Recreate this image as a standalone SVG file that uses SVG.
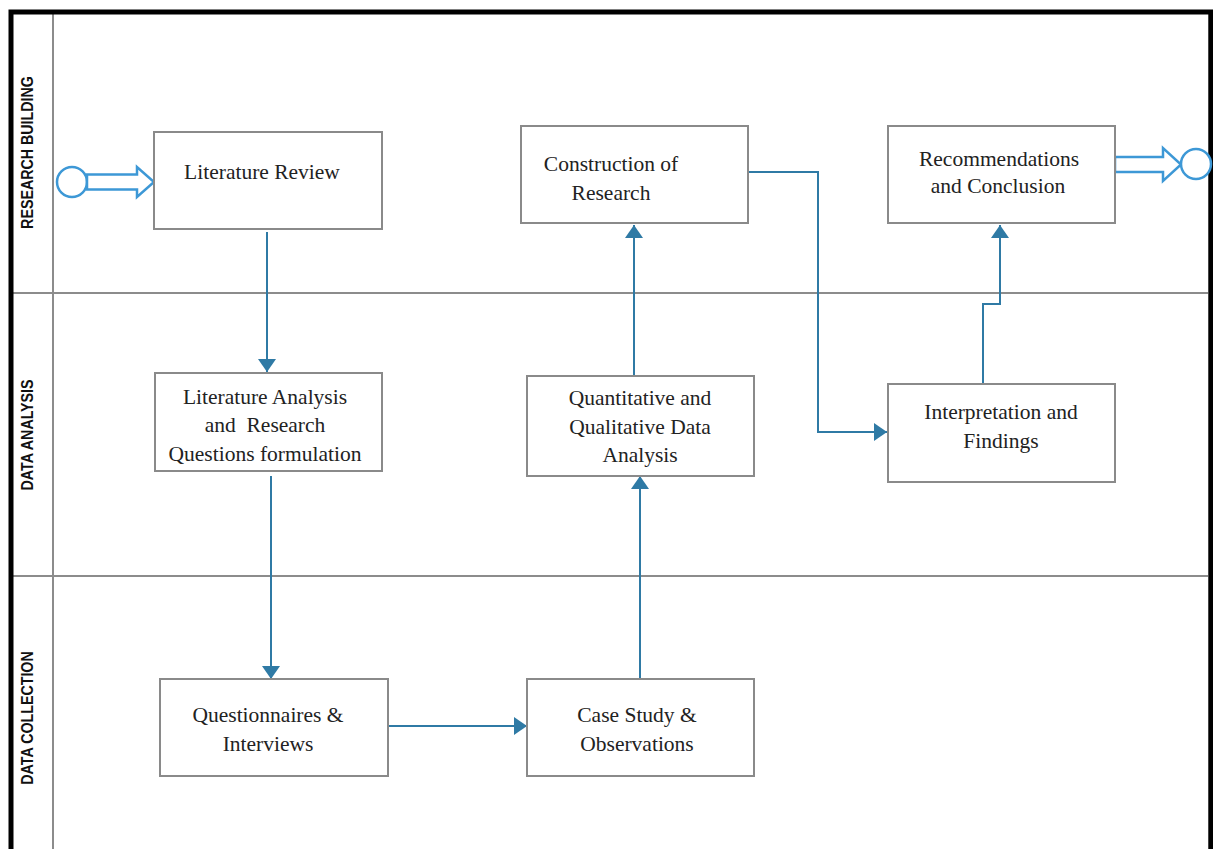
<svg xmlns="http://www.w3.org/2000/svg" width="1213" height="849" viewBox="0 0 1213 849">
<defs>
<style>
.lane{stroke:#8c8c8c;stroke-width:2;fill:none}
.frame{stroke:#000;stroke-width:5;fill:none}
.lbl{font-family:"Liberation Sans",Arial,sans-serif;font-weight:bold;font-size:16.3px;fill:#111;text-anchor:middle}
.box{fill:#fff;stroke:#8a8a8a;stroke-width:2}
.t{font-family:"Liberation Serif","Times New Roman",serif;font-size:21.5px;fill:#222;text-anchor:middle}
.c{stroke:#2f7aa5;stroke-width:2;fill:none}
.ev{stroke:#3d98d6;stroke-width:2.5;fill:#fff}
</style>
<marker id="ah" markerUnits="userSpaceOnUse" markerWidth="22" markerHeight="22" viewBox="0 0 22 22" refX="13" refY="11" orient="auto">
<path d="M0,2 L13,11 L0,20 Z" fill="#2f7aa5"/>
</marker>
</defs>
<rect width="1213" height="849" fill="#fff"/>
<g id="lanes">
<line class="lane" x1="53" y1="13" x2="53" y2="849"/>
<line class="lane" x1="11" y1="293" x2="1211" y2="293"/>
<line class="lane" x1="11" y1="576" x2="1211" y2="576"/>
<line class="lane" x1="1209" y1="13" x2="1209" y2="849"/>
<path class="frame" d="M11,849 V12 H1211 V849"/>
<text class="lbl" transform="translate(32.5,152.5) rotate(-90) scale(0.875,1)">RESEARCH BUILDING</text>
<text class="lbl" transform="translate(32.5,435) rotate(-90) scale(0.875,1)">DATA ANALYSIS</text>
<text class="lbl" transform="translate(32.5,718) rotate(-90) scale(0.875,1)">DATA COLLECTION</text>
</g>
<g id="connectors">
<line class="c" x1="267" y1="232" x2="267" y2="372" marker-end="url(#ah)"/>
<line class="c" x1="271" y1="476" x2="271" y2="679" marker-end="url(#ah)"/>
<line class="c" x1="388" y1="726" x2="527" y2="726" marker-end="url(#ah)"/>
<line class="c" x1="640" y1="679" x2="640" y2="476" marker-end="url(#ah)"/>
<line class="c" x1="634" y1="376" x2="634" y2="225" marker-end="url(#ah)"/>
<polyline class="c" points="748,172 818,172 818,432 887,432" marker-end="url(#ah)"/>
<polyline class="c" points="983,384 983,304 1000,304 1000,225" marker-end="url(#ah)"/>
</g>
<g id="start">
<circle class="ev" cx="72" cy="182" r="15"/>
<path class="ev" d="M87,174.5 H137 V167 L154,182 L137,197 V189.5 H87 Z"/>
</g>
<g id="end">
<path class="ev" d="M1115,157 H1163 V148 L1181,164.5 L1163,181 V172 H1115 Z"/>
<circle class="ev" cx="1196" cy="164" r="15"/>
</g>
<g id="literature-review">
<rect class="box" x="154" y="132" width="228" height="97"/>
<text class="t" x="262" y="179">Literature Review</text>
</g>
<g id="construction">
<rect class="box" x="521" y="126" width="227" height="97"/>
<text class="t" x="611" y="171">Construction of</text>
<text class="t" x="611" y="200">Research</text>
</g>
<g id="recommendations">
<rect class="box" x="888" y="126" width="227" height="97"/>
<text class="t" x="999" y="166">Recommendations</text>
<text class="t" x="998" y="193">and Conclusion</text>
</g>
<g id="literature-analysis">
<rect class="box" x="155" y="373" width="227" height="98"/>
<text class="t" x="265" y="404">Literature Analysis</text>
<text class="t" x="265" y="432" xml:space="preserve">and  Research</text>
<text class="t" x="265" y="461">Questions formulation</text>
</g>
<g id="quantitative">
<rect class="box" x="527" y="376" width="227" height="100"/>
<text class="t" x="640" y="405">Quantitative and</text>
<text class="t" x="640" y="434">Qualitative Data</text>
<text class="t" x="640" y="462">Analysis</text>
</g>
<g id="interpretation">
<rect class="box" x="888" y="384" width="227" height="98"/>
<text class="t" x="1001" y="419">Interpretation and</text>
<text class="t" x="1001" y="448">Findings</text>
</g>
<g id="questionnaires">
<rect class="box" x="160" y="679" width="228" height="97"/>
<text class="t" x="268" y="722">Questionnaires &amp;</text>
<text class="t" x="268" y="751">Interviews</text>
</g>
<g id="case-study">
<rect class="box" x="527" y="679" width="227" height="97"/>
<text class="t" x="637" y="722">Case Study &amp;</text>
<text class="t" x="637" y="751">Observations</text>
</g>
</svg>
